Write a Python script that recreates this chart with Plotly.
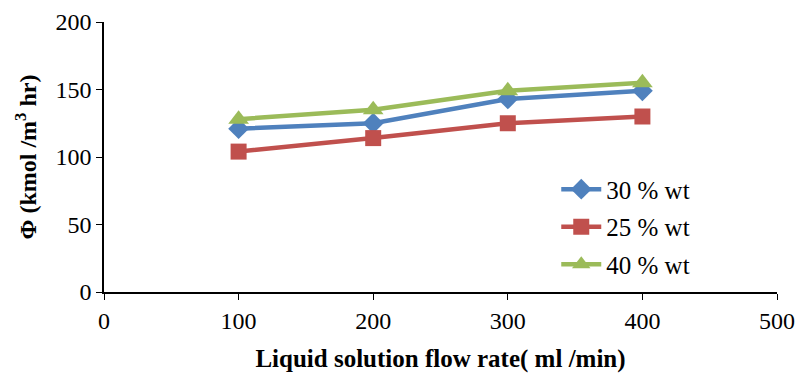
import plotly.graph_objects as go

# Absorption rate vs. liquid flow rate for three solution concentrations
flow_rate = [100, 200, 300, 400]
phi_30 = [121, 125, 143, 149]
phi_25 = [104, 114, 125, 130]
phi_40 = [128, 135, 149, 155]

x_ticks = [0, 100, 200, 300, 400, 500]
y_ticks = [0, 50, 100, 150, 200]

series = [
    ("30 % wt", phi_30, "#4F81BD", "diamond", 16),
    ("25 % wt", phi_25, "#C0504D", "square", 16),
    ("40 % wt", phi_40, "#9BBB59", "triangle-up", 18),
]

fig = go.Figure()
for i, (name, vals, color, symbol, size) in enumerate(series):
    fig.add_trace(go.Scatter(
        x=flow_rate, y=vals, name=name, mode="lines+markers",
        line=dict(color=color, width=4.5),
        marker=dict(symbol=symbol, size=size, color=color),
        legendgroup=f"g{i}",
    ))

font_family = "Liberation Serif, Times New Roman, serif"

fig.update_layout(
    width=802, height=374,
    margin=dict(l=104, r=25, t=22, b=82),
    paper_bgcolor="white", plot_bgcolor="white",
    font=dict(family=font_family, size=24, color="black"),
    showlegend=True,
    legend=dict(
        x=0.672, y=0.465, xanchor="left", yanchor="top",
        bgcolor="rgba(0,0,0,0)", font=dict(size=25),
        tracegroupgap=2, itemwidth=40,
    ),
    xaxis=dict(
        range=[0, 500], tickvals=x_ticks, showgrid=False, zeroline=False,
        showline=True, linecolor="black", linewidth=1.5,
        ticks="outside", ticklen=6, tickcolor="black", automargin=False,
        title=dict(text="<b>Liquid solution flow rate( ml /min)</b>",
                   font=dict(size=25), standoff=17),
    ),
    yaxis=dict(
        range=[0, 200], tickvals=y_ticks, showgrid=False, zeroline=False,
        showline=True, linecolor="black", linewidth=1.5,
        ticks="outside", ticklen=6, tickcolor="black", automargin=False,
        title=dict(text="<b>Φ (kmol /m<sup>3</sup> hr)</b>",
                   font=dict(size=24), standoff=12),
    ),
)

fig.write_html("out.html")
